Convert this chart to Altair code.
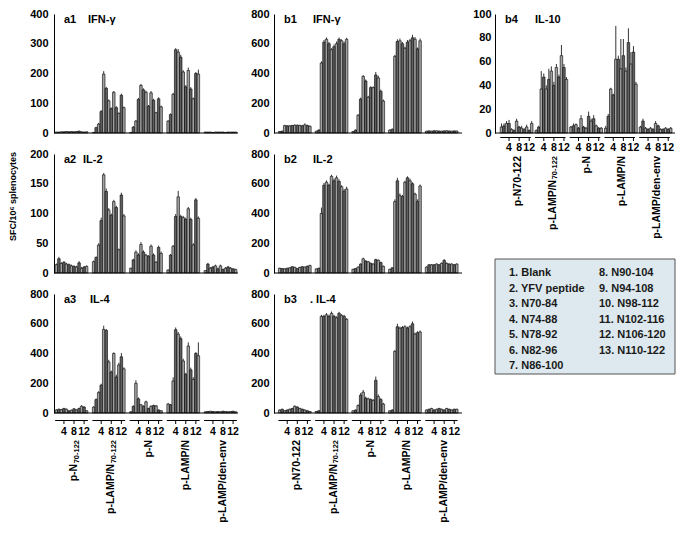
import altair as alt
import pandas as pd

FONT = "Liberation Sans"

GROUPS = ["g1", "g2", "g3", "g4", "g5"]
PEPTIDES = list(range(1, 14))
TICK_PEPTIDES = [4, 8, 12]
TICK_LABELS = ["4", "8", "12"]
# group names: main part and subscript part
GROUP_MAIN_A = ["p-N", "p-LAMP/N", "p-N", "p-LAMP/N", "p-LAMP/den-env"]
GROUP_SUB_A = ["70-122", "70-122", "", "", ""]
GROUP_MAIN_B = ["p-N70-122", "p-LAMP/N", "p-N", "p-LAMP/N", "p-LAMP/den-env"]
GROUP_SUB_B = ["", "70-122", "", "", ""]

# ---- a1 IFN-gamma ----
a1_vals = [
    [3, 3, 4, 4, 5, 4, 5, 4, 5, 6, 4, 3, 4],
    [2, 18, 30, 72, 198, 150, 108, 82, 137, 85, 66, 127, 85],
    [2, 20, 40, 113, 160, 145, 137, 90, 135, 110, 68, 115, 88],
    [40, 62, 130, 280, 272, 255, 205, 155, 210, 148, 115, 200, 198],
    [3, 3, 3, 2, 3, 3, 3, 3, 2, 3, 3, 3, 3],
]
a1_errs = [
    [1, 1, 1, 1, 1, 1, 1, 1, 1, 2, 1, 1, 1],
    [1, 3, 4, 5, 10, 5, 5, 4, 4, 5, 3, 5, 4],
    [1, 3, 4, 5, 5, 5, 5, 4, 6, 5, 3, 5, 4],
    [3, 4, 5, 5, 10, 8, 6, 6, 10, 6, 4, 5, 15],
    [1, 1, 1, 1, 1, 1, 1, 1, 1, 1, 1, 1, 1],
]
# ---- a2 IL-2 ----
a2_vals = [
    [14, 24, 16, 18, 15, 14, 12, 11, 10, 17, 8, 10, 11],
    [19, 26, 47, 88, 165, 137, 106, 97, 120, 110, 39, 131, 96],
    [8, 22, 35, 30, 48, 35, 30, 28, 45, 30, 18, 43, 33],
    [5, 30, 45, 95, 128, 95, 93, 90, 108, 90, 47, 123, 92],
    [4, 15, 8, 10, 12, 7, 12, 6, 8, 10, 8, 7, 6],
]
a2_errs = [
    [2, 3, 2, 2, 2, 2, 2, 2, 2, 3, 2, 2, 2],
    [2, 2, 3, 5, 3, 5, 3, 3, 3, 3, 2, 4, 3],
    [1, 2, 3, 3, 4, 3, 2, 2, 3, 3, 2, 3, 3],
    [1, 2, 2, 4, 10, 3, 3, 3, 3, 3, 3, 3, 3],
    [1, 2, 2, 2, 2, 2, 2, 1, 2, 2, 2, 1, 1],
]
# ---- a3 IL-4 ----
a3_vals = [
    [20, 25, 22, 30, 25, 15, 18, 28, 20, 30, 45, 40, 15],
    [40, 90, 137, 187, 562, 555, 343, 275, 400, 242, 323, 378, 297],
    [8, 45, 200, 95, 55, 45, 75, 30, 45, 50, 48, 20, 15],
    [60, 55, 215, 560, 530, 500, 350, 260, 450, 290, 225, 400, 385],
    [8, 10, 12, 10, 8, 10, 8, 12, 10, 8, 10, 12, 8],
]
a3_errs = [
    [5, 5, 5, 5, 5, 4, 5, 5, 5, 6, 8, 6, 4],
    [5, 8, 10, 10, 25, 10, 15, 10, 8, 15, 15, 25, 10],
    [3, 6, 20, 10, 6, 6, 8, 5, 6, 6, 6, 4, 4],
    [8, 6, 25, 15, 15, 15, 15, 10, 25, 15, 15, 10, 90],
    [2, 2, 2, 2, 2, 2, 2, 2, 2, 2, 2, 2, 2],
]
# ---- b1 IFN-gamma ----
b1_vals = [
    [10, 12, 50, 48, 48, 50, 52, 52, 50, 48, 55, 50, 45],
    [12, 20, 470, 610, 630, 600, 560, 580, 600, 630, 620, 600, 630],
    [10, 20, 120, 228, 380, 350, 240, 305, 305, 390, 370, 280, 215],
    [20, 25, 515, 615, 620, 600, 570, 610, 620, 640, 630, 565, 620],
    [12, 14, 12, 15, 14, 13, 12, 14, 15, 13, 12, 14, 13],
]
b1_errs = [
    [3, 4, 5, 5, 5, 5, 6, 5, 6, 6, 10, 6, 6],
    [3, 4, 12, 15, 12, 12, 10, 15, 15, 12, 10, 15, 10],
    [3, 4, 6, 10, 10, 10, 10, 10, 8, 20, 15, 12, 10],
    [4, 5, 10, 15, 15, 12, 10, 15, 12, 20, 15, 10, 15],
    [3, 3, 3, 3, 3, 3, 3, 3, 3, 3, 3, 3, 3],
]
# ---- b2 IL-2 ----
b2_vals = [
    [32, 30, 28, 32, 35, 42, 38, 30, 38, 42, 40, 45, 50],
    [28, 32, 400, 590, 610, 590, 650, 620, 640, 615, 580, 550, 565],
    [25, 30, 40, 60, 95, 80, 75, 65, 60, 90, 85, 70, 45],
    [25, 35, 480, 620, 520, 515, 610, 640, 620, 600, 530, 480, 585],
    [40, 55, 55, 55, 60, 55, 65, 85, 65, 60, 60, 55, 60],
]
b2_errs = [
    [3, 3, 3, 3, 4, 4, 4, 3, 4, 4, 4, 5, 6],
    [3, 4, 40, 15, 12, 10, 10, 15, 15, 15, 10, 15, 15],
    [3, 3, 4, 5, 8, 6, 6, 5, 5, 6, 6, 6, 5],
    [3, 4, 15, 20, 15, 10, 10, 10, 15, 10, 10, 15, 10],
    [4, 5, 5, 5, 5, 5, 6, 8, 6, 5, 5, 5, 5],
]
# ---- b3 IL-4 ----
b3_vals = [
    [20, 25, 15, 20, 25, 30, 45, 40, 30, 25, 20, 15, 10],
    [10, 15, 650, 650, 660, 650, 670, 650, 640, 670, 655, 650, 630],
    [15, 20, 50, 120, 140, 100, 95, 90, 85, 220, 110, 90, 60],
    [15, 20, 415, 580, 570, 575, 580, 570, 580, 600, 530, 540, 545],
    [20, 25, 30, 20, 25, 30, 25, 20, 30, 25, 20, 25, 25],
]
b3_errs = [
    [4, 4, 4, 4, 5, 5, 6, 5, 5, 4, 4, 4, 3],
    [3, 4, 10, 10, 12, 10, 12, 10, 10, 10, 10, 10, 8],
    [3, 4, 8, 15, 15, 10, 8, 8, 8, 25, 15, 10, 8],
    [3, 4, 8, 20, 10, 10, 10, 10, 10, 15, 10, 10, 10],
    [4, 4, 5, 4, 4, 5, 4, 4, 5, 4, 4, 4, 4],
]
# ---- b4 IL-10 ----
b4_vals = [
    [5, 6, 8, 8, 3, 2, 10, 5, 4, 3, 5, 2, 8],
    [2, 5, 37, 47, 37, 45, 52, 40, 55, 47, 65, 55, 45],
    [5, 6, 7, 4, 12, 5, 4, 14, 10, 12, 6, 4, 4],
    [4, 14, 37, 32, 62, 62, 54, 65, 52, 76, 58, 68, 41],
    [5, 10, 4, 3, 4, 3, 8, 6, 3, 3, 4, 3, 4],
]
b4_errs = [
    [3, 2, 2, 3, 1, 1, 2, 1, 2, 1, 2, 1, 2],
    [1, 1, 15, 3, 3, 9, 4, 3, 3, 2, 9, 3, 2],
    [1, 2, 1, 1, 3, 1, 1, 4, 2, 3, 1, 1, 1],
    [2, 2, 1, 1, 28, 3, 25, 14, 3, 12, 10, 5, 2],
    [1, 2, 1, 1, 1, 1, 2, 1, 1, 1, 1, 1, 1],
]

LEGEND_ITEMS = ["1. Blank", "2. YFV peptide", "3. N70-84", "4. N74-88", "5. N78-92",
                "6. N82-96", "7. N86-100", "8. N90-104", "9. N94-108", "10. N98-112",
                "11. N102-116", "12. N106-120", "13. N110-122"]
LEGEND_COL = [0, 0, 0, 0, 0, 0, 0, 1, 1, 1, 1, 1, 1]
LEGEND_ROW = [0, 1, 2, 3, 4, 5, 6, 0, 1, 2, 3, 4, 5]

H = 119
GL_SIZE = 10.5
SUB_SIZE = 7.5
SUB_LEN = (556 * 5 + 333) / 1000.0 * SUB_SIZE  # width of "70-122" in Liberation Sans Bold


def panel(tag, cyto, vals, errs, ymax, ystep, width, pad_outer, mains=None, subs=None,
          offs=(7, 19, 27), ytitle=None, lpad=5, cyto_x=34):
    rows = []
    for gi, g in enumerate(GROUPS):
        for pi, p in enumerate(PEPTIDES):
            rows.append({"group": g, "pep": p, "v": vals[gi][pi],
                         "top": vals[gi][pi] + errs[gi][pi],
                         "shade": "L" if p % 2 else "D"})
    df = pd.DataFrame(rows)
    xs = alt.Scale(domain=GROUPS, paddingInner=0.12, paddingOuter=pad_outer)
    os_ = alt.Scale(domain=PEPTIDES, paddingInner=0, paddingOuter=0)
    ys = alt.Scale(domain=[0, ymax], nice=False, zero=True)
    axis_kw = dict(values=list(range(0, ymax + 1, ystep)), grid=False, ticks=False,
                   labelFont=FONT, labelFontWeight="bold", labelFontSize=11,
                   labelColor="black", labelPadding=lpad, domainColor="black",
                   domainWidth=1)
    if ytitle:
        axis_kw.update(titleFont=FONT, titleFontWeight="bold", titleFontSize=9,
                       titleColor="black", titlePadding=12, titleY=42)
        yenc = alt.Y("v:Q", scale=ys, axis=alt.Axis(**axis_kw), title=ytitle)
    else:
        yenc = alt.Y("v:Q", scale=ys, axis=alt.Axis(**axis_kw), title=None)
    xenc = alt.X("group:N", scale=xs, axis=None)
    xoff = alt.XOffset("pep:O", scale=os_)

    base = alt.Chart(df)
    bars = base.mark_bar(stroke="black", strokeWidth=0.6).encode(
        x=xenc, xOffset=xoff, y=yenc,
        color=alt.Color("shade:N", scale=alt.Scale(domain=["L", "D"], range=["#a2a2a2", "#606060"]), legend=None),
    )
    ebars = base.mark_rule(color="black", strokeWidth=0.8).encode(
        x=xenc, xOffset=xoff, y=yenc, y2="top:Q")
    baseline = alt.Chart(pd.DataFrame({"v": [0]})).mark_rule(color="black", strokeWidth=1).encode(y=yenc)
    tag_t = alt.Chart(pd.DataFrame({"t": [tag]})).mark_text(
        align="left", baseline="middle", font=FONT, fontWeight="bold", fontSize=11, color="black"
    ).encode(x=alt.value(10), y=alt.value(6), text="t:N")
    cyto_t = alt.Chart(pd.DataFrame({"t": [cyto]})).mark_text(
        align="left", baseline="middle", font=FONT, fontWeight="bold", fontSize=11, color="black"
    ).encode(x=alt.value(cyto_x), y=alt.value(6), text="t:N")
    layers = [bars, ebars, baseline, tag_t, cyto_t]

    if mains is not None:
        o1, o2, o3 = offs
        tdf = pd.DataFrame([{"group": g, "pep": p, "lab": l}
                            for g in GROUPS for p, l in zip(TICK_PEPTIDES, TICK_LABELS)])
        gdf = pd.DataFrame({"group": GROUPS, "name": mains})
        seg = alt.Chart(gdf).mark_bar(color="black").encode(
            x=xenc, y=alt.value(H + o1), y2=alt.value(H + o1 + 1))
        ticks = alt.Chart(tdf).mark_rule(color="black", strokeWidth=1).encode(
            x=xenc, xOffset=xoff, y=alt.value(H + o1), y2=alt.value(H + o1 + 4))
        tlab = alt.Chart(tdf).mark_text(
            font=FONT, fontWeight="bold", fontSize=10.5, color="black", baseline="middle"
        ).encode(x=xenc, xOffset=xoff, y=alt.value(H + o2), text="lab:N")
        layers += [seg, ticks, tlab]
        plain = [(g, m) for g, m, s in zip(GROUPS, mains, subs) if not s]
        pdf = pd.DataFrame({"group": [g for g, _ in plain], "name": [m for _, m in plain]})
        layers.append(alt.Chart(pdf).mark_text(
            angle=270, align="right", baseline="middle", font=FONT, fontWeight="bold",
            fontSize=GL_SIZE, color="black"
        ).encode(x=alt.X("group:N", scale=xs, axis=None, bandPosition=0.58),
                 y=alt.value(H + o3), text="name:N"))
        withsub = [(g, m, s) for g, m, s in zip(GROUPS, mains, subs) if s]
        if withsub:
            sdf = pd.DataFrame({"group": [w[0] for w in withsub], "main": [w[1] for w in withsub],
                                "sub": [w[2] for w in withsub]})
            layers.append(alt.Chart(sdf).mark_text(
                angle=270, align="right", baseline="middle", font=FONT, fontWeight="bold",
                fontSize=SUB_SIZE, color="black"
            ).encode(x=alt.X("group:N", scale=xs, axis=None, bandPosition=0.66),
                     y=alt.value(H + o3), text="sub:N"))
            layers.append(alt.Chart(sdf).mark_text(
                angle=270, align="right", baseline="middle", font=FONT, fontWeight="bold",
                fontSize=GL_SIZE, color="black"
            ).encode(x=alt.X("group:N", scale=xs, axis=None, bandPosition=0.58),
                     y=alt.value(H + o3 + SUB_LEN + 0.5), text="main:N"))

    return alt.layer(*layers).properties(width=width, height=H)


WA, WB, WC = 184, 188, 180
a1 = panel("a1", "IFN-γ", a1_vals, a1_errs, 400, 100, WA, 0.03, lpad=6, cyto_x=34)
a2 = panel("a2", "IL-2", a2_vals, a2_errs, 200, 50, WA, 0.03, ytitle="SFC/10⁶ splenocytes", lpad=6, cyto_x=29)
a3 = panel("a3", "IL-4", a3_vals, a3_errs, 800, 200, WA, 0.03, mains=GROUP_MAIN_A, subs=GROUP_SUB_A,
           lpad=6, cyto_x=36)
b1 = panel("b1", "IFN-γ", b1_vals, b1_errs, 800, 200, WB, 0.12, cyto_x=39)
b2 = panel("b2", "IL-2", b2_vals, b2_errs, 800, 200, WB, 0.12, cyto_x=39)
b3 = panel("b3", ". IL-4", b3_vals, b3_errs, 800, 200, WB, 0.12, mains=GROUP_MAIN_B, subs=GROUP_SUB_B,
           cyto_x=36)
b4 = panel("b4", "IL-10", b4_vals, b4_errs, 100, 20, WC, 0.15, mains=GROUP_MAIN_B, subs=GROUP_SUB_B,
           offs=(4, 15, 23), lpad=4, cyto_x=40)

LW, LH = WC, 115
ldf = pd.DataFrame({"item": LEGEND_ITEMS, "col": LEGEND_COL, "row": LEGEND_ROW})
lbox = alt.Chart(pd.DataFrame({"k": [0]})).mark_rect(
    fill="#dde9ee", stroke="#555555", strokeWidth=1
).encode(x=alt.value(0), x2=alt.value(LW), y=alt.value(0), y2=alt.value(LH))
ltext = alt.Chart(ldf).mark_text(
    align="left", baseline="middle", font=FONT, fontWeight="bold", fontSize=11, color="#1a1a1a"
).encode(
    x=alt.X("col:O", scale=alt.Scale(type="point", domain=[0, 1], range=[14, 104], padding=0), axis=None),
    y=alt.Y("row:O", scale=alt.Scale(type="point", domain=list(range(7)), range=[14, 107], padding=0), axis=None),
    text="item:N",
)
legend = alt.layer(lbox, ltext).properties(width=LW, height=LH)

colA = alt.vconcat(a1, a2, a3, spacing=10)
colB = alt.vconcat(b1, b2, b3, spacing=10)
colC = alt.vconcat(b4, legend, spacing=19)

left = alt.hconcat(colA, colB, spacing=11)
chart = alt.hconcat(left, colC, spacing=9).properties(
    padding={"left": 0, "top": 0, "right": 0, "bottom": 0}, background="white"
).configure_view(stroke=None)

chart.save("out.html", embed_options={"renderer": "svg", "actions": False})
